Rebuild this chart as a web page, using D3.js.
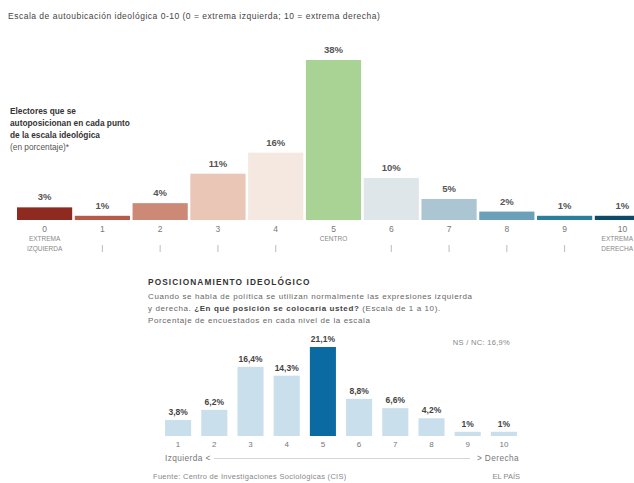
<!DOCTYPE html>
<html><head><meta charset="utf-8">
<script src="https://cdn.jsdelivr.net/npm/d3@7"></script>
<style>body{margin:0;background:#fff;}svg{display:block;font-family:"Liberation Sans",Arial,sans-serif;}</style>
</head><body>
<svg id="c" width="634" height="483"></svg>
<script>
// Top chart data
const topCats = ["0","1","2","3","4","5","6","7","8","9","10"];
const topValues = [3,1,4,11,16,38,10,5,2,1,1];
const topLabels = ["3%","1%","4%","11%","16%","38%","10%","5%","2%","1%","1%"];
const topColors = ["#8e2a1f","#b85a4a","#cc8a76","#e9c6b6","#f4e8e1","#a8d394","#dfe6ea","#abc5d3","#6aa0b8","#2b7e9c","#0c4a68"];
const topSub = {"0":["EXTREMA","IZQUIERDA"],"5":["CENTRO"],"10":["EXTREMA","DERECHA"]};
// Bottom chart data
const botCats = ["1","2","3","4","5","6","7","8","9","10"];
const botValues = [3.8,6.2,16.4,14.3,21.1,8.8,6.6,4.2,1,1];
const botLabels = ["3,8%","6,2%","16,4%","14,3%","21,1%","8,8%","6,6%","4,2%","1%","1%"];

const svg = d3.select("#c");

// ---- Top chart
svg.append("text").attr("x",8).attr("y",19).attr("font-size",8.5).attr("letter-spacing",0.5).attr("fill","#444")
  .text("Escala de autoubicación ideológica 0-10 (0 = extrema izquierda; 10 = extrema derecha)");
const ann = [["Electores que se",true],["autoposicionan en cada punto",true],["de la escala ideológica",true],["(en porcentaje)*",false]];
ann.forEach((a,i)=>svg.append("text").attr("x",10).attr("y",114+i*12).attr("font-size",8.3)
  .attr("fill", a[1]?"#333":"#555").attr("font-weight",a[1]?"bold":"normal").text(a[0]));

const xT = d3.scaleBand().domain(topCats).range([17,650]).paddingInner(0.045).paddingOuter(0);
const yT = d3.scaleLinear().domain([0,38]).range([220,60]);
const gT = svg.append("g");
gT.selectAll("rect").data(topCats).join("rect")
  .attr("x",d=>xT(d)).attr("width",xT.bandwidth())
  .attr("y",(d,i)=>yT(topValues[i])).attr("height",(d,i)=>220-yT(topValues[i]))
  .attr("fill",(d,i)=>topColors[i]);
gT.selectAll("text.v").data(topCats).join("text").attr("class","v")
  .attr("x",d=>xT(d)+xT.bandwidth()/2).attr("y",(d,i)=>yT(topValues[i])-7)
  .attr("text-anchor","middle").attr("font-size",9.5).attr("font-weight","bold").attr("fill","#555")
  .text((d,i)=>topLabels[i]);
gT.selectAll("text.c").data(topCats).join("text").attr("class","c")
  .attr("x",d=>xT(d)+xT.bandwidth()/2).attr("y",232)
  .attr("text-anchor","middle").attr("font-size",8.5).attr("fill","#777").text(d=>d);
topCats.forEach(d=>{
  const cx = xT(d)+xT.bandwidth()/2;
  const lines = topSub[d];
  if (!lines) {
    gT.append("line").attr("x1",cx).attr("x2",cx).attr("y1",245).attr("y2",252)
      .attr("stroke","#aaa").attr("stroke-width",0.8);
    return;
  }
  const last = d === "10";
  lines.forEach((l,j)=>gT.append("text").attr("x",last?633:cx).attr("y",241+j*9.5)
    .attr("text-anchor",last?"end":"middle").attr("font-size",6.5).attr("fill","#888").text(l));
});

// ---- Bottom chart
svg.append("text").attr("x",148).attr("y",285).attr("font-size",8.3).attr("letter-spacing",1.1)
  .attr("font-weight","bold").attr("fill","#333").text("POSICIONAMIENTO IDEOLÓGICO");
svg.append("text").attr("x",148).attr("y",299).attr("font-size",8).attr("letter-spacing",0.6).attr("fill","#666")
  .text("Cuando se habla de política se utilizan normalmente las expresiones izquierda");
const sub2 = svg.append("text").attr("x",148).attr("y",311).attr("font-size",8).attr("letter-spacing",0.6).attr("fill","#666");
sub2.append("tspan").text("y derecha. ");
sub2.append("tspan").attr("font-weight","bold").attr("fill","#444").text("¿En qué posición se colocaría usted?");
sub2.append("tspan").text(" (Escala de 1 a 10).");
svg.append("text").attr("x",148).attr("y",323).attr("font-size",8).attr("letter-spacing",0.6).attr("fill","#666")
  .text("Porcentaje de encuestados en cada nivel de la escala");
svg.append("text").attr("x",510).attr("y",345).attr("text-anchor","end").attr("font-size",7.5).attr("letter-spacing",0.3).attr("fill","#888")
  .text("NS / NC: 16,9%");

const xB = d3.scaleBand().domain(botCats).range([160,522]).paddingInner(0.28).paddingOuter(0.14);
const yB = d3.scaleLinear().domain([0,21.1]).range([436,347]);
const gB = svg.append("g");
gB.selectAll("rect").data(botCats).join("rect")
  .attr("x",d=>xB(d)).attr("width",xB.bandwidth())
  .attr("y",(d,i)=>yB(botValues[i])).attr("height",(d,i)=>436-yB(botValues[i]))
  .attr("fill",d=>d==="5"?"#0a6aa1":"#c9dfeb");
gB.selectAll("text.v").data(botCats).join("text").attr("class","v")
  .attr("x",d=>xB(d)+xB.bandwidth()/2).attr("y",(d,i)=>yB(botValues[i])-5)
  .attr("text-anchor","middle").attr("font-size",8.5).attr("font-weight","bold").attr("fill","#444")
  .text((d,i)=>botLabels[i]);
gB.selectAll("text.c").data(botCats).join("text").attr("class","c")
  .attr("x",d=>xB(d)+xB.bandwidth()/2).attr("y",447)
  .attr("text-anchor","middle").attr("font-size",8).attr("fill","#777").text(d=>d);
svg.append("text").attr("x",165).attr("y",461).attr("font-size",8.3).attr("letter-spacing",0.4).attr("fill","#777").text("Izquierda <");
svg.append("line").attr("x1",214).attr("x2",470).attr("y1",458.5).attr("y2",458.5).attr("stroke","#ccc").attr("stroke-width",0.8);
svg.append("text").attr("x",519).attr("y",461).attr("text-anchor","end").attr("font-size",8.3).attr("letter-spacing",0.4).attr("fill","#777").text("> Derecha");
svg.append("text").attr("x",153).attr("y",479).attr("font-size",7.5).attr("letter-spacing",0.3).attr("fill","#888")
  .text("Fuente: Centro de Investigaciones Sociológicas (CIS)");
svg.append("text").attr("x",520).attr("y",479).attr("text-anchor","end").attr("font-size",7.5).attr("fill","#888").text("EL PAÍS");
</script>
</body></html>
